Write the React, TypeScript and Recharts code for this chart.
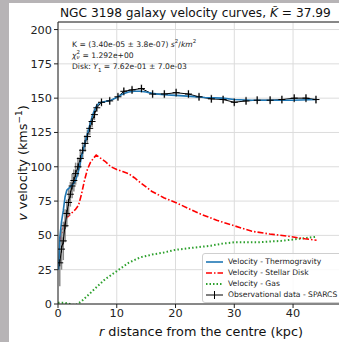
import React from 'react'
import { LineChart, Line, XAxis, YAxis, CartesianGrid, ErrorBar, Legend, ReferenceLine } from 'recharts'

const obsR = [0.3, 0.6, 0.9, 1.2, 1.5, 1.8, 2.1, 2.4, 2.7, 3.0, 3.4, 3.8, 4.2, 4.6, 5.0, 5.4, 5.8, 6.2, 6.6, 7.4, 8.8, 10.2, 11.2, 12.6, 14.2, 16.1, 18.1, 20.1, 22.2, 24.0, 26.1, 28.1, 30.0, 32.0, 33.9, 36.1, 38.1, 40.2, 42.2, 43.9]
const obsV = [30, 40, 46, 57, 66, 74, 80, 86, 90, 95, 100, 106, 112, 117, 122, 128, 133, 138, 143, 147, 148, 151, 155, 156, 157, 153, 153, 154, 153, 151, 149.5, 149, 147, 148, 148.5, 148.5, 149, 150, 150, 149]
const obsErr = [17, 15, 14, 12, 10, 10, 9, 9, 8, 8, 7, 7, 6, 6, 5, 5, 4, 4, 3, 3, 3, 3, 3, 3, 3, 3, 3, 3, 3, 3, 3, 3, 3, 3, 3, 3, 3, 3, 3, 3]

const thermoR = [0.1, 0.3, 0.6, 0.9, 1.2, 1.5, 2, 2.5, 3, 3.5, 4, 4.5, 5, 5.5, 6, 6.5, 7, 8, 9, 10, 11, 12, 13, 14, 15, 16, 18, 20, 22, 25, 28, 30, 33, 36, 40, 44]
const thermoV = [25, 48, 60, 68, 78, 83, 85, 87, 90, 97, 107, 116, 124, 132, 139, 144, 146.5, 147.5, 148.5, 150.5, 153, 154.5, 155, 155, 154.5, 153.5, 152.5, 152, 151.5, 150.5, 150, 149, 148.5, 148.5, 148.5, 149]

const diskR = [0.3, 0.6, 1, 1.5, 2, 2.5, 3, 3.5, 4, 4.5, 5, 5.5, 6, 6.5, 7, 8, 9, 10, 11, 12, 13, 14, 16, 18, 20, 22, 24, 27, 30, 33, 36, 39, 42, 44]
const diskV = [46, 51, 57, 63, 65, 67, 69, 72, 80, 90, 98, 103, 106, 108.5, 107, 104, 100, 98, 96.5, 95, 92, 88.5, 82, 77.5, 74, 70, 66, 61, 57, 53, 51, 49.5, 47.5, 46.5]

const gasR = [0, 1, 2, 3, 4, 5, 6, 7, 8, 9, 10, 11, 12, 13, 14, 15, 16, 18, 20, 22, 24, 26, 28, 30, 32, 34, 36, 38, 40, 42, 44]
const gasV = [1, 1, 0, -1, 2, 6, 10, 14, 18, 21, 24, 27, 30, 32, 34, 35, 36, 37.5, 39.5, 40.5, 41.5, 42.5, 44, 45, 45, 45, 45.5, 46, 47, 48, 49]

const xTicks = [0, 10, 20, 30, 40]
const yTicks = [0, 25, 50, 75, 100, 125, 150, 175, 200]

const legendItems = [
  { name: 'Velocity - Thermogravity', color: '#1f77b4', dash: '' },
  { name: 'Velocity - Stellar Disk', color: '#ff0000', dash: '6 2 1.5 2' },
  { name: 'Velocity - Gas', color: '#2ca02c', dash: '1.5 2' },
  { name: 'Observational data - SPARCS', color: '#000000', dash: 'cross' },
]

const obsData = obsR.map((r, i) => ({ r, v: obsV[i], err: obsErr[i] }))
const thermoData = thermoR.map((r, i) => ({ r, v: thermoV[i] }))
const diskData = diskR.map((r, i) => ({ r, v: diskV[i] }))
const gasData = gasR.map((r, i) => ({ r, v: gasV[i] }))

const font = '"DejaVu Sans", sans-serif'

// '+' marker, like matplotlib's errorbar fmt
const Cross = (props: any) => {
  const { cx, cy, index } = props
  if (cx == null || cy == null) return <g key={`c${index}`} />
  return <path key={`c${index}`} d={`M${cx - 3.5},${cy}H${cx + 3.5}M${cx},${cy - 3.5}V${cy + 3.5}`} stroke="#000" strokeWidth={1} />
}

const LegendBox = () => (
  <div style={{ background: 'rgba(255,255,255,0.85)', border: '1px solid #cfcfcf', borderRadius: 3, padding: '2px 4px 2px 3px', fontFamily: font, fontSize: 7.6, color: '#222' }}>
    {legendItems.map((it) => (
      <div key={it.name} style={{ display: 'flex', alignItems: 'center', height: 11 }}>
        <svg width={17} height={10} style={{ marginRight: 5 }}>
          {it.dash === 'cross' ? (
            <path d="M0,5H17M8.5,1V9" stroke="#000" strokeWidth={1} />
          ) : (
            <line x1={0} y1={5} x2={17} y2={5} stroke={it.color} strokeWidth={it.dash === '1.5 2' ? 2 : 1.6} strokeDasharray={it.dash || undefined} />
          )}
        </svg>
        <span>{it.name}</span>
      </div>
    ))}
  </div>
)

export default function App() {
  return (
    <div style={{ position: 'absolute', left: 0, top: 0, width: 339, height: 342, overflow: 'hidden', background: '#b7b4b6', fontFamily: font }}>
      <div style={{ position: 'absolute', left: 9, top: 3, width: 340, height: 340, background: '#fff' }} />
      <div style={{ position: 'absolute', left: 0, top: 0 }}>
        <LineChart width={343} height={342} margin={{ top: 22, right: 0, left: 0, bottom: 0 }}>
          <CartesianGrid stroke="#dcdcdc" strokeWidth={1} />
          <XAxis
            type="number"
            dataKey="r"
            domain={[0, 48.5]}
            ticks={xTicks}
            allowDataOverflow
            height={38}
            tickSize={4}
            tickMargin={1}
            tick={{ fontSize: 11.3, fill: '#222', fontFamily: font }}
            stroke="#222"
          />
          <YAxis
            type="number"
            domain={[0, 205.5]}
            ticks={yTicks}
            allowDataOverflow
            width={58}
            tickSize={4}
            tickMargin={2}
            tick={{ fontSize: 11.3, fill: '#222', fontFamily: font }}
            stroke="#222"
          />
          <ReferenceLine y={205.5} stroke="#222" strokeWidth={1} />
          <Line data={gasData} dataKey="v" stroke="#2ca02c" strokeWidth={2} strokeDasharray="1.5 2.2" dot={false} isAnimationActive={false} />
          <Line data={diskData} dataKey="v" stroke="#ff0000" strokeWidth={1.6} strokeDasharray="6 2 1.5 2" dot={false} isAnimationActive={false} />
          <Line data={obsData} dataKey="v" stroke="#000" strokeWidth={1} dot={Cross} isAnimationActive={false}>
            <ErrorBar dataKey="err" width={0} stroke="#8a8a8a" strokeWidth={1.5} direction="y" />
          </Line>
          <Line data={thermoData} dataKey="v" stroke="#1f77b4" strokeWidth={1.6} dot={false} isAnimationActive={false} />
          <Legend
            layout="vertical"
            align="center"
            verticalAlign="middle"
            content={LegendBox}
            wrapperStyle={{ position: 'absolute', left: 202, top: 253, width: 'auto' }}
          />
        </LineChart>
      </div>
      <div style={{ position: 'absolute', left: 60, top: 6, fontSize: 12.2, whiteSpace: 'nowrap', color: '#111' }}>
        NGC 3198 galaxy velocity curves, <i>K&#x303;</i> = 37.99
      </div>
      <div style={{ position: 'absolute', left: 72, top: 36, fontSize: 7.6, lineHeight: '11px', color: '#222', whiteSpace: 'nowrap' }}>
        <div>K = (3.40e-05 ± 3.8e-07) <i>s</i><sup style={{ fontSize: 5.5 }}>2</sup>/<i>km</i><sup style={{ fontSize: 5.5 }}>2</sup></div>
        <div><i>χ</i><span style={{ display: 'inline-flex', flexDirection: 'column', fontSize: 5.5, lineHeight: '5px', verticalAlign: 'middle' }}><span>2</span><i>ν</i></span> = 1.292e+00</div>
        <div>Disk: <i>Y</i><sub style={{ fontSize: 5.5 }}>1</sub> = 7.62e-01 ± 7.0e-03</div>
      </div>
      <div style={{ position: 'absolute', left: 22, top: 163, transform: 'translate(-50%, -50%) rotate(-90deg)', fontSize: 12.8, whiteSpace: 'nowrap', color: '#111' }}>
        <i>v</i> velocity (kms<sup style={{ fontSize: 9 }}>−1</sup>)
      </div>
      <div style={{ position: 'absolute', left: 201, top: 331, transform: 'translate(-50%, -50%)', fontSize: 12.8, whiteSpace: 'nowrap', color: '#111' }}>
        <i>r</i> distance from the centre (kpc)
      </div>
    </div>
  )
}
